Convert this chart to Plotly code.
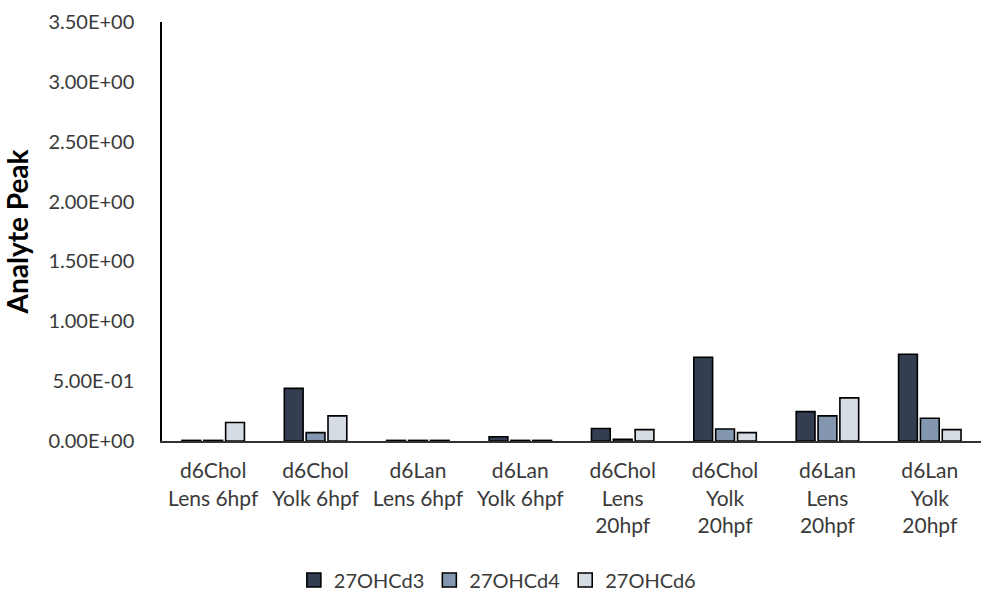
import plotly.graph_objects as go

# Sample groups (x categories)
categories = [
    "d6Chol<br>Lens 6hpf",
    "d6Chol<br>Yolk 6hpf",
    "d6Lan<br>Lens 6hpf",
    "d6Lan<br>Yolk 6hpf",
    "d6Chol<br>Lens<br>20hpf",
    "d6Chol<br>Yolk<br>20hpf",
    "d6Lan<br>Lens<br>20hpf",
    "d6Lan<br>Yolk<br>20hpf",
]

# Analyte peak values per series
oh_d3 = [0.005, 0.44, 0.005, 0.035, 0.105, 0.70, 0.245, 0.725]
oh_d4 = [0.005, 0.07, 0.005, 0.005, 0.015, 0.10, 0.21, 0.19]
oh_d6 = [0.155, 0.21, 0.005, 0.005, 0.095, 0.07, 0.36, 0.095]

series_names = ["27OHCd3", "27OHCd4", "27OHCd6"]
series_colors = ["#333F50", "#8497B0", "#D6DCE4"]

y_ticks = [0, 0.5, 1.0, 1.5, 2.0, 2.5, 3.0, 3.5]
y_tick_text = [f"{v:.2E}" for v in y_ticks]

FONT = "Lato"
TEXT = "#3A3A3A"

fig = go.Figure()
for name, vals, col in zip(series_names, [oh_d3, oh_d4, oh_d6], series_colors):
    fig.add_trace(go.Bar(
        x=categories, y=vals, name=name, legendgroup=name, showlegend=False,
        marker=dict(color=col, line=dict(color="#000000", width=1.6)),
    ))
    # square legend key with a black outline
    fig.add_trace(go.Scatter(
        x=[None], y=[None], mode="markers", name=name, legendgroup=name,
        marker=dict(symbol="square", size=14, color=col,
                    line=dict(color="#000000", width=1.6)),
    ))

fig.update_layout(
    width=981, height=593,
    margin=dict(l=162, r=0, t=22, b=152),
    paper_bgcolor="white", plot_bgcolor="white",
    barmode="group", bargap=0.36, bargroupgap=0.14,
    font=dict(family=FONT, size=20, color=TEXT),
    showlegend=True,
    legend=dict(
        orientation="h", xref="container", x=0.507, xanchor="center",
        yref="container", y=0.022, yanchor="middle",
        font=dict(family=FONT, size=20, color=TEXT),
        itemwidth=30, tracegroupgap=0,
    ),
)

fig.update_yaxes(
    range=[0, 3.5], tickvals=y_ticks, ticktext=y_tick_text,
    showgrid=False, zeroline=False,
    showline=True, linecolor="#000000", linewidth=1.5,
    ticks="", ticklabelstandoff=22,
    tickfont=dict(family=FONT, size=20, color=TEXT),
    title=dict(text="<b>Analyte Peak</b>", standoff=12,
               font=dict(family=FONT, size=28, color="#000000")),
)

fig.update_xaxes(
    showgrid=False, zeroline=False,
    showline=True, linecolor="#333333", linewidth=2,
    ticks="", ticklabelstandoff=10,
    tickfont=dict(family=FONT, size=21, color=TEXT),
    tickangle=0,
)

fig.write_html("out.html")
